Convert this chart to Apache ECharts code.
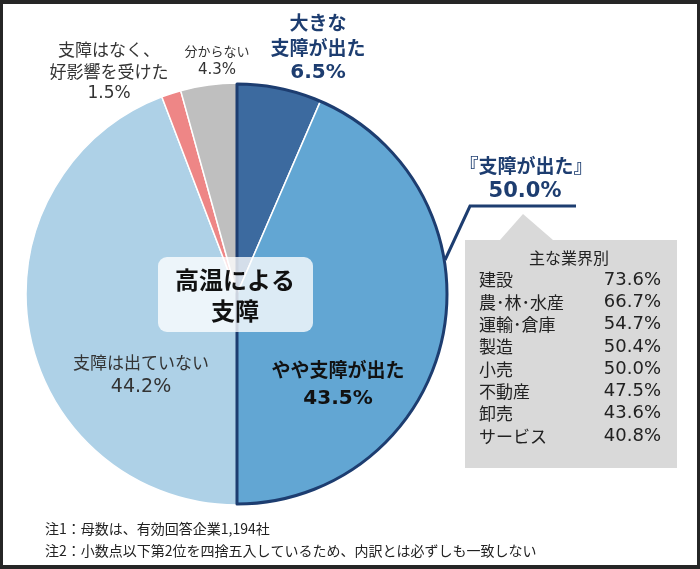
<!DOCTYPE html>
<html>
<head>
<meta charset="utf-8">
<script src="https://cdn.jsdelivr.net/npm/echarts@6/dist/echarts.min.js"></script>
<style>
html, body { margin: 0; padding: 0; }
#chart { width: 700px; height: 569px; }
</style>
</head>
<body>
<div id="chart"></div>
<script>
// 回答の内訳（時計回り、12時から）
var categories = ['大きな\n支障が出た', 'やや支障が出た', '支障は出ていない', '支障はなく、\n好影響を受けた', '分からない'];
var values = [6.5, 43.5, 44.2, 1.5, 4.3];
var colors = ['#3c6a9f', '#62a6d3', '#aed1e7', '#ee8686', '#bfbfbf'];

// 主な業界別
var industries = ['建設', '農･林･水産', '運輸･倉庫', '製造', '小売', '不動産', '卸売', 'サービス'];
var industryValues = [73.6, 66.7, 54.7, 50.4, 50.0, 47.5, 43.6, 40.8];

var notes = ['注1：母数は、有効回答企業1,194社', '注2：小数点以下第2位を四捨五入しているため、内訳とは必ずしも一致しない'];

var NAVY = '#1d3d70';
var FONT = '"DejaVu Sans", "Noto Sans CJK JP", sans-serif';
var JP = '"Noto Sans CJK JP", sans-serif';

// ラベル位置と書式 [名前サイズ, 値サイズ, 太さ, 色, 行高]
var labelPos = [[318, 48], [338, 384], [141, 375], [109, 72], [217, 61]];
var labelStyles = [
	[19, 20, 'bold', NAVY, 25],
	[19, 20, 'bold', '#111', 29],
	[17, 19, 'normal', '#333', 24],
	[17, 17, 'normal', '#333', 22],
	[13, 15, 'normal', '#333', 19]
];

var center = [237, 294];
var radius = 211;

var pieData = categories.map(function (c, i) {
	var s = labelStyles[i];
	return {
		name: c,
		value: values[i],
		itemStyle: {color: colors[i]},
		label: {
			rich: {
				n: {fontSize: s[0], fontWeight: s[2], color: s[3], lineHeight: s[4], fontFamily: JP, align: 'center'},
				v: {fontSize: s[1], fontWeight: s[2], color: s[3], lineHeight: s[4], fontFamily: FONT, align: 'center'}
			}
		}
	};
});

var hitTotal = values[0] + values[1];

var graphics = [
	{type: 'rect', z: -10, shape: {x: 3, y: 4, width: 694, height: 561}, style: {fill: '#fff'}},
	// 中央の見出し
	{type: 'rect', z: 100, shape: {x: 158, y: 257, width: 155, height: 75, r: 9}, style: {fill: 'rgba(255,255,255,0.78)'}},
	{type: 'text', z: 101, x: 235, y: 295, style: {text: '高温による\n支障', font: 'bold 24px ' + JP, lineHeight: 31, fill: '#111', align: 'center', verticalAlign: 'middle'}},
	// 『支障が出た』 吹き出し
	{type: 'polyline', z: 100, shape: {points: [[445, 260], [470, 206], [576, 206]]}, style: {stroke: NAVY, lineWidth: 3, fill: null}},
	{type: 'text', z: 101, x: 526, y: 166, style: {text: '『支障が出た』', font: 'bold 19px ' + JP, fill: NAVY, align: 'center', verticalAlign: 'middle'}},
	{type: 'text', z: 101, x: 525, y: 192, style: {text: hitTotal.toFixed(1) + '%', font: 'bold 21px ' + FONT, fill: NAVY, align: 'center', verticalAlign: 'middle'}},
	{type: 'polygon', z: 90, shape: {points: [[465, 240], [500, 240], [523, 214], [553, 240], [677, 240], [677, 468], [465, 468]]}, style: {fill: '#d9d9d9'}},
	{type: 'text', z: 101, x: 569, y: 258, style: {text: '主な業界別', font: '16px ' + JP, fill: '#222', align: 'center', verticalAlign: 'middle'}}
];

industries.forEach(function (name, i) {
	var y = 280 + i * 22.3;
	graphics.push({type: 'text', z: 101, x: 479, y: y, style: {text: name, font: '17px ' + JP, fill: '#222', align: 'left', verticalAlign: 'middle'}});
	graphics.push({type: 'text', z: 101, x: 661, y: y, style: {text: industryValues[i].toFixed(1) + '%', font: '18px ' + FONT, fill: '#222', align: 'right', verticalAlign: 'middle'}});
});

notes.forEach(function (t, i) {
	graphics.push({type: 'text', z: 101, x: 45, y: 529 + i * 22, style: {text: t, font: '14px ' + JP, fill: '#222', align: 'left', verticalAlign: 'middle'}});
});

var myChart = echarts.init(document.getElementById('chart'));

var option = {
	backgroundColor: '#262626',
	animation: false,
	graphic: graphics,
	series: [
		{
			type: 'pie',
			center: center,
			radius: radius,
			startAngle: 90,
			clockwise: true,
			z: 2,
			avoidLabelOverlap: false,
			itemStyle: {borderColor: '#fff', borderWidth: 1.5},
			label: {
				show: true,
				position: 'inside',
				overflow: 'none',
				formatter: function (p) {
					return p.name.split('\n').map(function (l) {
						return '{n|' + l + '}';
					}).join('\n') + '\n{v|' + p.value.toFixed(1) + '%}';
				}
			},
			labelLine: {show: false},
			labelLayout: function (p) {
				var pos = labelPos[p.dataIndex];
				return {x: pos[0], y: pos[1], align: 'center', verticalAlign: 'middle'};
			},
			emphasis: {disabled: true},
			data: pieData
		},
		{
			// 『支障が出た』の枠線
			type: 'pie',
			center: center,
			radius: radius - 1,
			startAngle: 90,
			silent: true,
			z: 3,
			label: {show: false},
			labelLine: {show: false},
			emphasis: {disabled: true},
			data: [
				{value: hitTotal, itemStyle: {color: 'rgba(0,0,0,0)', borderColor: NAVY, borderWidth: 3}},
				{value: 100 - hitTotal, itemStyle: {color: 'rgba(0,0,0,0)', borderWidth: 0}}
			]
		}
	]
};

myChart.setOption(option);
</script>
</body>
</html>
